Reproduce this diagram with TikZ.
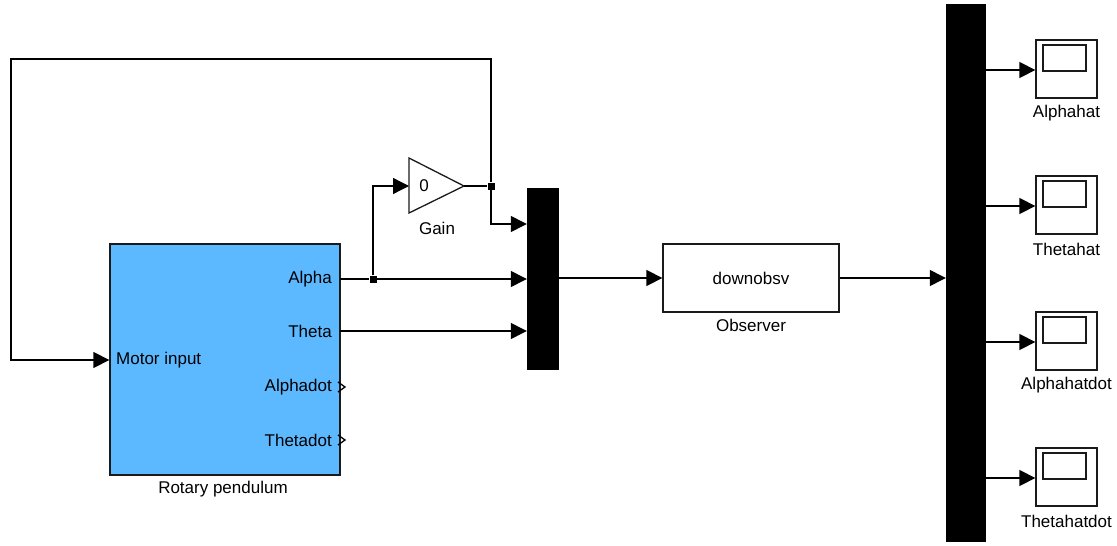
\documentclass[tikz,border=0pt]{standalone}
\usepackage{fontspec}
\setmainfont{Liberation Sans}
\usepackage{tikz}
\usetikzlibrary{arrows.meta,positioning,shapes.geometric}
\definecolor{plantblue}{HTML}{5DB9FF}
\definecolor{edgegray}{HTML}{1A1A1A}

\tikzset{
    wire/.style={line width=1.3pt},
    sig/.style={wire, -{Triangle[length=16pt,width=16pt]}},
    blockbox/.style={draw=edgegray, line width=1.3pt, inner sep=0pt},
    muxbar/.style={fill=black, draw=black, inner sep=0pt},
    lbl/.style={font=\fontsize{17}{19}\selectfont, inner sep=0pt},
    tap/.style={fill=black, inner sep=0pt, minimum size=7pt},
}

\begin{document}
\begin{tikzpicture}[x=1pt,y=-1pt]
    \useasboundingbox (0,0) rectangle (1117,546);

    % plant
    \node[blockbox, fill=plantblue, minimum width=230pt, minimum height=231pt] (pend) at (225,359.5) {};
    \node[lbl] (pendlbl) at (223,489) {Rotary pendulum};
    \node[lbl, anchor=west] (motorin) at (116,360) {Motor input};
    \node[lbl, anchor=east] (alphap) at (332,279) {Alpha};
    \node[lbl, anchor=east] (thetap) at (332,331) {Theta};
    \node[lbl, anchor=east] (alphadotp) at (332,387) {Alphadot};
    \node[lbl, anchor=east] (thetadotp) at (332,440) {Thetadot};
    \coordinate (alphaout) at (340,279);
    \coordinate (thetaout) at (340,331);
    \draw[wire] (338,382) -- (345,387) -- (338,392);
    \draw[wire] (338,435) -- (345,440) -- (338,445);

    % gain
    \coordinate (gainin) at (409,186);
    \coordinate (gainout) at (464,186);
    \draw[wire, draw=edgegray] (409,158) -- (464,186) -- (409,213) -- cycle;
    \node[lbl] (gainval) at (424,186) {0};
    \node[lbl] (gainlbl) at (437,228) {Gain};

    % mux, observer, demux
    \node[muxbar, minimum width=31pt, minimum height=181pt] (mux) at (542.5,278.5) {};
    \node[blockbox, minimum width=176pt, minimum height=68pt, font=\fontsize{17}{19}\selectfont] (obsv) at (751,278) {downobsv};
    \node[lbl] (obsvlbl) at (751,325) {Observer};
    \node[muxbar, minimum width=39pt, minimum height=537pt] (demux) at (965.5,272.5) {};

    % branch points
    \node[tap] (tapa) at (373,279) {};
    \node[tap] (tapg) at (491,186) {};

    % signals
    \draw[wire] (alphaout) -- (tapa);
    \draw[sig] (tapa) -- (mux.west |- tapa);
    \draw[sig] (tapa) |- (gainin);
    \draw[wire] (gainout) -- (tapg);
    \draw[sig] (tapg) |- (mux.west |- 0,224);
    \draw[sig] (tapg) -- (491,59) -| (11,360) -- (pend.west |- motorin);
    \draw[sig] (thetaout) -- (mux.west |- thetaout);
    \draw[sig] (mux.east |- obsv.west) -- (obsv.west);
    \draw[sig] (obsv.east) -- (demux.west |- obsv.east);

    % scopes
    \foreach \nm/\yy [count=\i] in {Alphahat/70, Thetahat/206, Alphahatdot/342, Thetahatdot/478} {
        \node[blockbox, minimum width=61pt, minimum height=58pt] (scope\i) at (1066.5,\yy-1) {};
        \draw[wire, draw=edgegray] (1043,\yy-25) rectangle (1086,\yy+1);
        \node[lbl] (scopelbl\i) at (1066.5,\yy+43) {\nm};
        \draw[sig] (demux.east |- 0,\yy) -- (scope\i.west |- 0,\yy);
    }
\end{tikzpicture}
\end{document}
